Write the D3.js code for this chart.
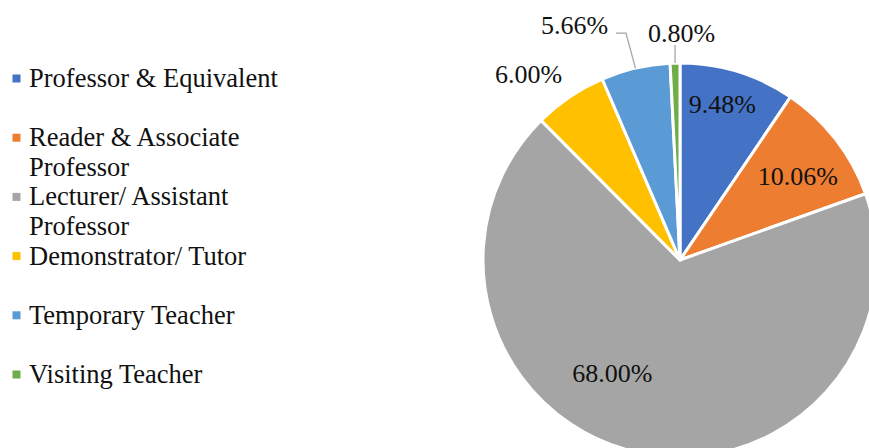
<!DOCTYPE html>
<html>
<head>
<meta charset="utf-8">
<script src="https://cdn.jsdelivr.net/npm/d3@7"></script>
<style>
  html, body { margin: 0; padding: 0; background: #fff; }
  svg { display: block; }
</style>
</head>
<body>
<svg id="chart" width="869" height="448"></svg>
<script>
// Teaching staff by designation (share of total, %)
const categories = [
  ["Professor & Equivalent"],
  ["Reader & Associate", "Professor"],
  ["Lecturer/ Assistant", "Professor"],
  ["Demonstrator/ Tutor"],
  ["Temporary Teacher"],
  ["Visiting Teacher"]
];
const shares = [9.48, 10.06, 68.00, 6.00, 5.66, 0.80];
const valueLabels = ["9.48%", "10.06%", "68.00%", "6.00%", "5.66%", "0.80%"];
const colors = ["#4472C4", "#ED7D31", "#A5A5A5", "#FFC000", "#5B9BD5", "#70AD47"];

const W = 869, H = 448;
const cx = 680, cy = 260, R = 197;
const FONT = "Liberation Serif, Times New Roman, serif";

const svg = d3.select("#chart").attr("font-family", FONT);

// ---- pie ----
const pie = d3.pie().sort(null).value(d => d)
  .startAngle(0).endAngle(2 * Math.PI);
const arcs = pie(shares);
const arc = d3.arc().innerRadius(0).outerRadius(R);

const g = svg.append("g").attr("transform", `translate(${cx},${cy})`);
g.selectAll("path.slice")
  .data(arcs)
  .join("path")
  .attr("class", "slice")
  .attr("d", arc)
  .attr("fill", (d, i) => colors[i])
  .attr("stroke", "#fff")
  .attr("stroke-width", 3)
  .attr("stroke-linejoin", "round");

// ---- data labels ----
// inside labels sit near 0.75R, outside ones are anchored on the rim
const mid = d => (d.startAngle + d.endAngle) / 2;
const polar = (a, r) => [r * Math.sin(a), -r * Math.cos(a)];
const labelInside = [true, true, true, false, false, false];
const labelNudge = [[-1, -14], [1, 7], [-35, -31], [-41, -22], [-61, -43], [6.5, -30]];

const labelData = arcs.map((d, i) => {
  const base = polar(mid(d), labelInside[i] ? R * 0.75 : R);
  const rim = polar(mid(d), R);
  return {
    i,
    rim,
    x: base[0] + labelNudge[i][0],
    y: base[1] + labelNudge[i][1]
  };
});

// leader lines for the two thin slices at the top
const leaders = [
  { i: 4, pts: d => [d.rim, [d.x + 51.5, d.y + 8], [d.x + 41.5, d.y + 8]] },
  { i: 5, pts: d => [d.rim, [d.rim[0], d.y + 12]] }
];
g.selectAll("path.leader")
  .data(leaders)
  .join("path")
  .attr("class", "leader")
  .attr("d", l => d3.line()(l.pts(labelData[l.i])))
  .attr("fill", "none")
  .attr("stroke", "#A5A5A5")
  .attr("stroke-width", 1.3);

g.selectAll("text.val")
  .data(labelData)
  .join("text")
  .attr("class", "val")
  .attr("font-family", FONT)
  .attr("x", d => d.x)
  .attr("y", d => d.y)
  .attr("dy", "0.33em")
  .attr("text-anchor", "middle")
  .attr("font-size", 26)
  .attr("fill", "#111")
  .text(d => valueLabels[d.i]);

// ---- legend ----
const legendY = d3.scalePoint().domain(d3.range(categories.length)).range([87, 383]);
const lg = svg.append("g");
const item = lg.selectAll("g.item")
  .data(categories)
  .join("g")
  .attr("class", "item")
  .attr("transform", (d, i) => `translate(0,${legendY(i)})`);

item.append("rect")
  .attr("x", 12.5)
  .attr("y", -12.5)
  .attr("width", 8)
  .attr("height", 8)
  .attr("fill", (d, i) => colors[i]);

item.append("text")
  .attr("font-family", FONT)
  .attr("font-size", 26.5)
  .attr("fill", "#111")
  .selectAll("tspan")
  .data(d => d)
  .join("tspan")
  .attr("x", 29)
  .attr("y", (d, j) => j * 30)
  .text(d => d);
</script>
</body>
</html>
